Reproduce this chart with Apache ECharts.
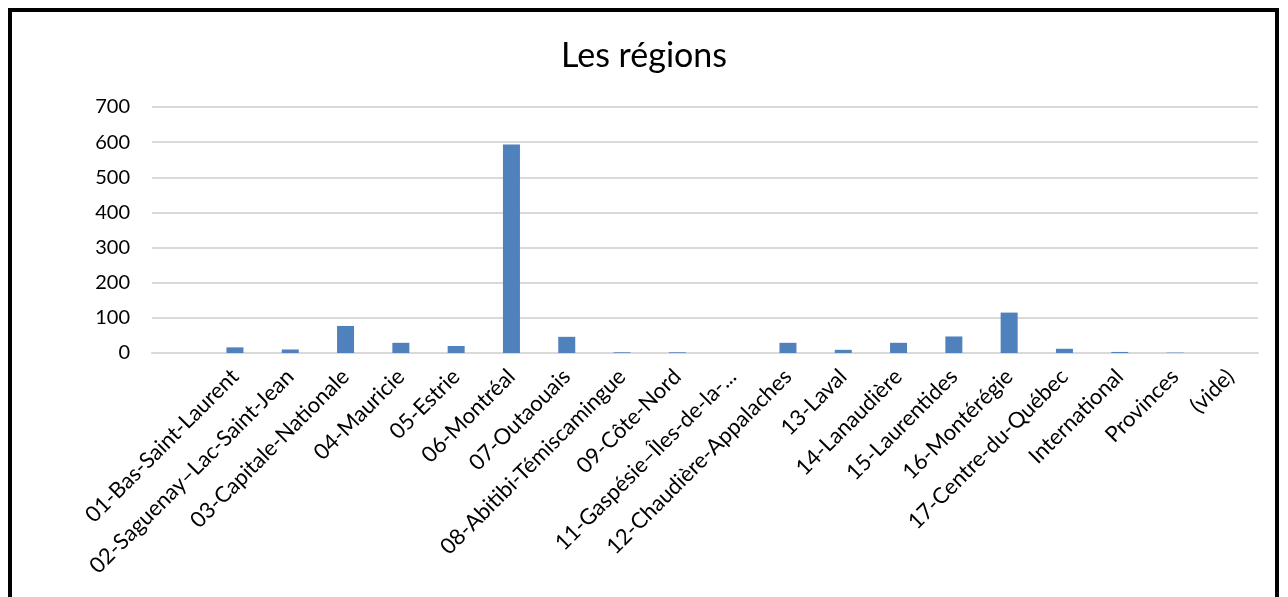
<!DOCTYPE html>
<html>
<head>
<meta charset="utf-8">
<script src="https://cdn.jsdelivr.net/npm/echarts@6/dist/echarts.min.js"></script>
<style>
  html, body { margin: 0; padding: 0; background: #fff; overflow: hidden; }
  #frame {
    position: absolute; left: 8px; top: 8px; width: 1271px; height: 600px;
    border: 4px solid #000; border-bottom: none; box-sizing: border-box;
  }
  #chart { position: absolute; left: 0; top: 0; width: 1288px; height: 597px; }
</style>
</head>
<body>
<div id="frame"></div>
<div id="chart"></div>
<script>
var regions = ['', '01-Bas-Saint-Laurent', '02-Saguenay–Lac-Saint-Jean', '03-Capitale-Nationale',
  '04-Mauricie', '05-Estrie', '06-Montréal', '07-Outaouais', '08-Abitibi-Témiscamingue',
  '09-Côte-Nord', '11-Gaspésie–Îles-de-la-...', '12-Chaudière-Appalaches', '13-Laval',
  '14-Lanaudière', '15-Laurentides', '16-Montérégie', '17-Centre-du-Québec',
  'International', 'Provinces', '(vide)'];
var counts = [null, 16, 10, 77, 29, 20, 593, 46, 2, 2, 0, 29, 9, 29, 47, 115, 12, 3, 1, 0];
var yTicks = [0, 100, 200, 300, 400, 500, 600, 700];

var chart = echarts.init(document.getElementById('chart'));
var option = {
  animation: false,
  title: {
    text: 'Les régions',
    left: 'center',
    top: 34,
    textStyle: { fontFamily: 'Lato', fontSize: 34, fontWeight: 'normal', color: '#000' }
  },
  grid: { left: 152, right: 30, top: 107, bottom: 244, containLabel: false },
  xAxis: {
    type: 'category',
    data: regions,
    axisLine: { lineStyle: { color: '#d9d9d9', width: 2 } },
    axisTick: { show: false },
    axisLabel: {
      interval: 0, rotate: 45, margin: 20,
      fontFamily: 'Lato', fontSize: 22, color: '#000'
    }
  },
  yAxis: {
    type: 'value',
    min: yTicks[0],
    max: yTicks[yTicks.length - 1],
    interval: 100,
    axisLine: { show: false },
    axisTick: { show: false },
    splitLine: { lineStyle: { color: '#d9d9d9', width: 2 } },
    axisLabel: { margin: 22, fontFamily: 'Lato', fontSize: 20, color: '#000' }
  },
  series: [{
    type: 'bar',
    data: counts,
    barWidth: 17,
    itemStyle: { color: '#4f81bd' }
  }]
};
chart.setOption(option);
window.addEventListener('resize', chart.resize);
</script>
</body>
</html>
